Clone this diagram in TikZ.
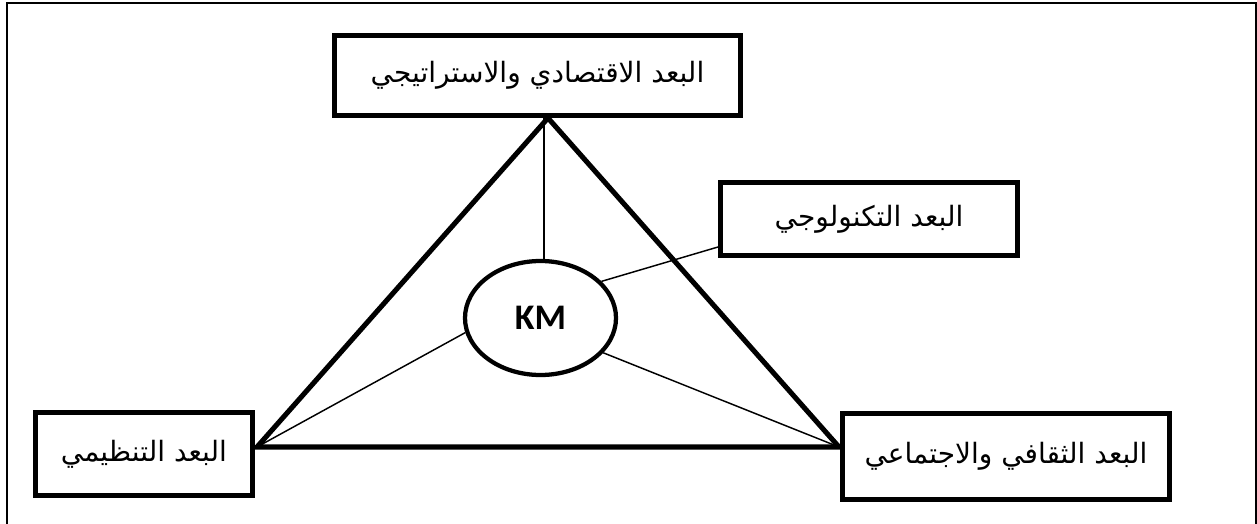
\documentclass[tikz,border=0pt]{standalone}
\usepackage{fontspec}
\usetikzlibrary{shapes.geometric}
\TeXXeTstate=1
\newfontfamily\arabicfont[Script=Arabic]{DejaVu Sans}
\newfontfamily\kmfont{Carlito}
\tikzset{
  dimbox/.style={draw, line width=3.6pt, rectangle, inner sep=0pt, align=center,
    font=\arabicfont\fontsize{21pt}{24pt}\selectfont},
  frameline/.style={line width=1.4pt},
  triline/.style={line width=3.8pt},
  thinline/.style={line width=1.1pt},
  kmnode/.style={draw, ellipse, line width=3.2pt, inner sep=0pt,
    minimum width=113.25pt, minimum height=85.5pt,
    font=\kmfont\bfseries\fontsize{27pt}{30pt}\selectfont}
}
\newcommand{\dimtext}[1]{\raisebox{-3pt}{\beginR #1\endR}}
\begin{document}
\begin{tikzpicture}[x=0.75pt,y=-0.75pt]
  \clip (0,0) rectangle (1257,524);
  \fill[white] (0,0) rectangle (1257,524);
  % outer frame, open at the bottom
  \draw[frameline] (7,3) rectangle (1256,560);

  % the four dimensions
  \node[dimbox, minimum width=304.5pt, minimum height=60pt] (econ) at (537.5,75.5)
    {\dimtext{البعد الاقتصادي والاستراتيجي}};
  \node[dimbox, minimum width=222.75pt, minimum height=54.75pt] (tech) at (869,219)
    {\dimtext{البعد التكنولوجي}};
  \node[dimbox, minimum width=162.75pt, minimum height=62.25pt] (org) at (144,454)
    {\dimtext{البعد التنظيمي}};
  \node[dimbox, minimum width=245.25pt, minimum height=64.5pt] (cult) at (1006,456.5)
    {\dimtext{البعد الثقافي والاجتماعي}};

  % centre
  \node[kmnode] (km) at (540.5,318) {KM};

  % triangle corners on the boxes
  \coordinate (apex) at (548,118);
  \coordinate (lv) at (257,447);
  \coordinate (rv) at (839,447);
  \coordinate (vt) at (544,118);
  \coordinate (tk) at (718,247);

  \draw[triline] (lv) -- (apex) -- (rv) -- cycle;

  % spokes from KM
  \draw[thinline] (vt) -- (vt |- km.north);
  \draw[thinline] (km.31) -- (tk);
  \draw[thinline] (km.191) -- (lv);
  \draw[thinline] (km.331) -- (rv);
\end{tikzpicture}
\end{document}
